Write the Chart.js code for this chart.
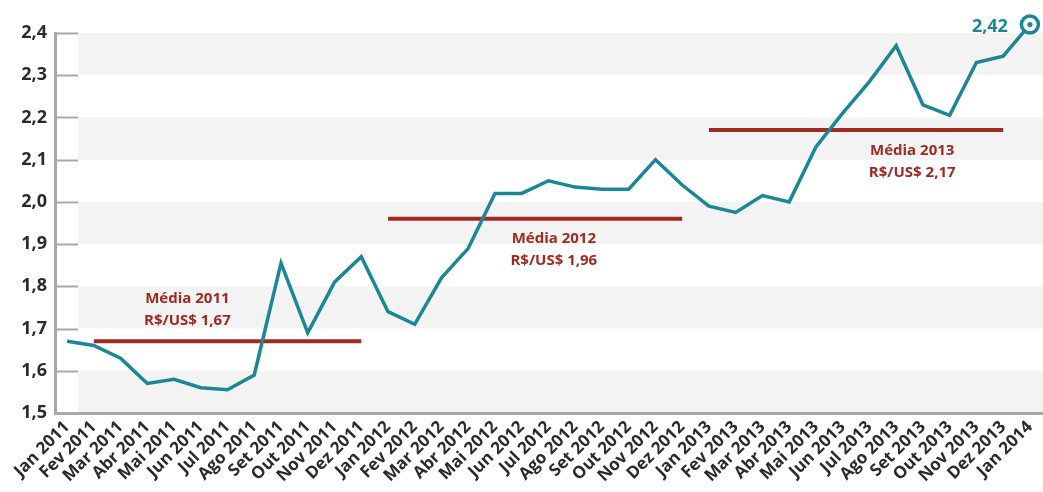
<!DOCTYPE html>
<html lang="pt-BR">
<head>
<meta charset="utf-8">
<title>Dólar comercial 2011-2014</title>
<script src="https://cdn.jsdelivr.net/npm/chart.js@4.4.1/dist/chart.umd.min.js"></script>
<style>
  html, body { margin: 0; padding: 0; background: #ffffff; }
  #wrap { width: 1043px; height: 492px; }
</style>
</head>
<body>
<div id="wrap"><canvas id="dolarChart"></canvas></div>
<script>
/* ---------------- DATA ---------------- */

const monthLabels = [
  "Jan 2011", "Fev 2011", "Mar 2011", "Abr 2011", "Mai 2011", "Jun 2011",
  "Jul 2011", "Ago 2011", "Set 2011", "Out 2011", "Nov 2011", "Dez 2011",
  "Jan 2012", "Fev 2012", "Mar 2012", "Abr 2012", "Mai 2012", "Jun 2012",
  "Jul 2012", "Ago 2012", "Set 2012", "Out 2012", "Nov 2012", "Dez 2012",
  "Jan 2013", "Fev 2013", "Mar 2013", "Abr 2013", "Mai 2013", "Jun 2013",
  "Jul 2013", "Ago 2013", "Set 2013", "Out 2013", "Nov 2013", "Dez 2013",
  "Jan 2014"
];

// R$ per US$, monthly
const usdBrl = [
  1.67, 1.66, 1.63, 1.57, 1.58, 1.56, 1.555, 1.59, 1.855, 1.69, 1.81, 1.87,
  1.74, 1.71, 1.82, 1.89, 2.02, 2.02, 2.05, 2.035, 2.03, 2.03, 2.10, 2.04,
  1.99, 1.975, 2.015, 2.00, 2.13, 2.21, 2.285, 2.37, 2.23, 2.205, 2.33, 2.345,
  2.42
];

// yearly averages and the months each bar spans (first, last index)
const avgYears = ["2011", "2012", "2013"];
const avgValues = [1.67, 1.96, 2.17];
const avgSpans = [[1, 11], [12, 23], [24, 35]];

const yTicks = [1.5, 1.6, 1.7, 1.8, 1.9, 2.0, 2.1, 2.2, 2.3, 2.4];

/* ---------------- STYLE ---------------- */

const TEAL = "#1b8796";
const RED = "#9e2a22";
const AXIS = "#a8a8a8";
const BAND = "#f3f3f3";
const FONT = "'Open Sans', sans-serif";

const fmt = (v, d) => v.toFixed(d).replace(".", ",");

// where each average caption sits: x in month index, y offset in px from the bar
const notePlacement = [
  { x: 4.5, dy: -42 },
  { x: 18.2, dy: 20 },
  { x: 31.6, dy: 21 }
];

/* ---------------- PLUGINS ---------------- */

// alternating horizontal bands + short inner tick marks on the y axis
const bandsPlugin = {
  id: "bands",
  beforeDraw(chart) {
    const { ctx, chartArea } = chart;
    const y = chart.scales.y;
    const bandLeft = chartArea.left + 23;
    ctx.save();
    ctx.fillStyle = BAND;
    for (let i = yTicks.length - 1; i > 0; i -= 2) {
      const top = y.getPixelForValue(yTicks[i]);
      const bottom = y.getPixelForValue(yTicks[i - 1]);
      ctx.fillRect(bandLeft, top, chartArea.right - bandLeft, bottom - top);
    }
    ctx.strokeStyle = AXIS;
    ctx.lineWidth = 2;
    yTicks.forEach((t) => {
      const py = Math.round(y.getPixelForValue(t)) + 0.5;
      ctx.beginPath();
      ctx.moveTo(chartArea.left, py);
      ctx.lineTo(bandLeft, py);
      ctx.stroke();
    });
    ctx.restore();
  }
};

// captions for the yearly averages and the last value label
const notesPlugin = {
  id: "notes",
  afterDatasetsDraw(chart) {
    const { ctx } = chart;
    const x = chart.scales.x;
    const y = chart.scales.y;
    ctx.save();
    ctx.textAlign = "center";
    ctx.textBaseline = "middle";
    ctx.fillStyle = RED;
    ctx.font = "bold 15px " + FONT;
    avgValues.forEach((v, i) => {
      const p = notePlacement[i];
      const cx = x.getPixelForValue(p.x);
      const cy = y.getPixelForValue(v) + p.dy;
      ctx.fillText("Média " + avgYears[i], cx, cy);
      ctx.fillText("R$/US$ " + fmt(v, 2), cx, cy + 22);
    });

    // end marker: inner dot and value
    const meta = chart.getDatasetMeta(0);
    const last = meta.data[meta.data.length - 1];
    ctx.fillStyle = TEAL;
    ctx.beginPath();
    ctx.arc(last.x, last.y, 2.6, 0, Math.PI * 2);
    ctx.fill();
    ctx.textAlign = "right";
    ctx.font = "bold 18px " + FONT;
    ctx.fillText(fmt(usdBrl[usdBrl.length - 1], 2), last.x - 22, last.y + 2);
    ctx.restore();
  }
};

/* ---------------- DATASETS ---------------- */

const lastIdx = usdBrl.length - 1;

const seriesData = usdBrl.map((v, i) => ({ x: i, y: v }));

const datasets = [
  {
    label: "R$/US$",
    data: seriesData,
    borderColor: TEAL,
    borderWidth: 3.5,
    tension: 0,
    clip: false,
    pointRadius: usdBrl.map((v, i) => (i === lastIdx ? 8.5 : 0)),
    pointBorderWidth: 3.5,
    pointBorderColor: TEAL,
    pointBackgroundColor: "#ffffff"
  }
];

avgValues.forEach((v, i) => {
  datasets.push({
    label: "Média " + avgYears[i],
    data: [
      { x: avgSpans[i][0], y: v },
      { x: avgSpans[i][1], y: v }
    ],
    borderColor: RED,
    borderWidth: 4,
    pointRadius: 0
  });
});

/* ---------------- CHART ---------------- */

const config = {
  type: "line",
  data: { datasets: datasets },
  options: {
    responsive: true,
    maintainAspectRatio: false,
    animation: false,
    events: [],
    layout: {
      autoPadding: false,
      padding: { top: 33, right: 0, left: 0, bottom: 0 }
    },
    plugins: {
      legend: { display: false },
      tooltip: { enabled: false }
    },
    scales: {
      x: {
        type: "linear",
        min: -0.45,
        max: 36.49,
        afterFit(scale) {
          scale.height = 79;
          scale.paddingLeft = 0;
          scale.paddingRight = 0;
        },
        afterBuildTicks(scale) {
          scale.ticks = monthLabels.map((l, i) => ({ value: i }));
        },
        grid: { display: false, drawTicks: false },
        border: { display: true, color: AXIS, width: 3 },
        ticks: {
          autoSkip: false,
          maxRotation: 45,
          minRotation: 45,
          padding: 4,
          color: "#2b2b2b",
          font: { family: FONT, size: 17, weight: "bold" },
          callback: (v) => monthLabels[v]
        }
      },
      y: {
        min: yTicks[0],
        max: yTicks[yTicks.length - 1],
        afterFit(scale) { scale.width = 55; },
        afterBuildTicks(scale) {
          scale.ticks = yTicks.map((t) => ({ value: t }));
        },
        grid: { display: false, drawTicks: false },
        border: { display: true, color: AXIS, width: 3 },
        ticks: {
          padding: 8,
          color: "#2b2b2b",
          font: { family: FONT, size: 18, weight: "bold" },
          callback: (v) => fmt(v, 1)
        }
      }
    }
  },
  plugins: [bandsPlugin, notesPlugin]
};

new Chart(document.getElementById("dolarChart"), config);
</script>
</body>
</html>
